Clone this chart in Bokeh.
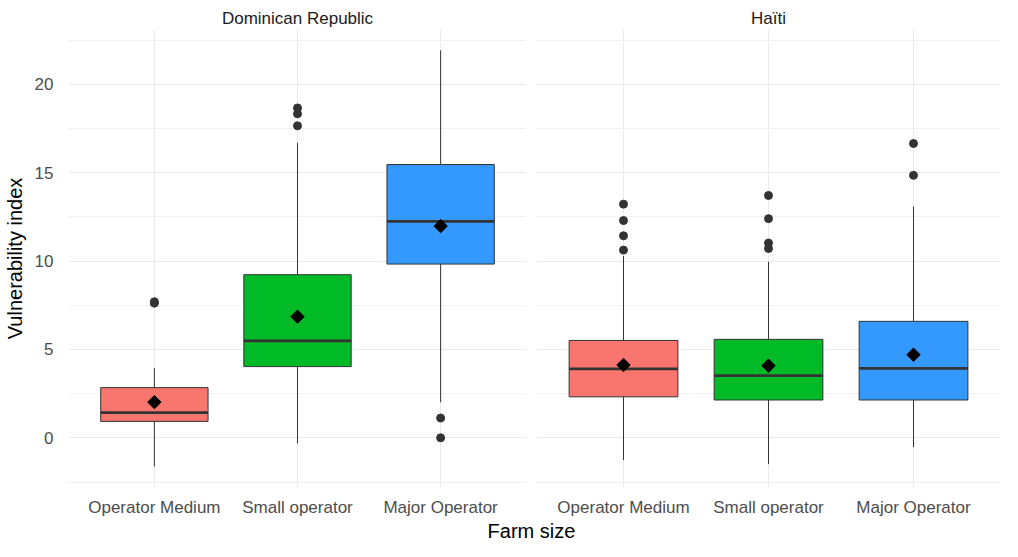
from bokeh.plotting import figure
from bokeh.layouts import column, row
from bokeh.models import ColumnDataSource, FactorRange, Range1d, FixedTicker, Label
from bokeh.embed import file_html
from bokeh.resources import INLINE
import math

# ---------------- data ----------------
categories = ["Operator Medium", "Small operator", "Major Operator"]
panels = ["Dominican Republic", "Haïti"]
fill_colors = ["#F8766D", "#00BA26", "#3399FF"]

dr_lower = [-1.63, -0.31, 2.01]
dr_q1 = [0.93, 4.03, 9.83]
dr_median = [1.43, 5.49, 12.25]
dr_q3 = [2.84, 9.23, 15.46]
dr_upper = [3.94, 16.69, 21.92]
dr_mean = [2.02, 6.85, 11.98]
dr_out_cat = ["Operator Medium", "Operator Medium", "Small operator", "Small operator",
              "Small operator", "Major Operator", "Major Operator"]
dr_out_val = [7.62, 7.70, 17.65, 18.33, 18.66, 1.12, 0.0]

ht_lower = [-1.25, -1.49, -0.52]
ht_q1 = [2.32, 2.14, 2.14]
ht_median = [3.90, 3.52, 3.93]
ht_q3 = [5.51, 5.57, 6.59]
ht_upper = [10.29, 9.96, 13.08]
ht_mean = [4.12, 4.08, 4.70]
ht_out_cat = ["Operator Medium", "Operator Medium", "Operator Medium", "Operator Medium",
              "Small operator", "Small operator", "Small operator", "Small operator",
              "Major Operator", "Major Operator"]
ht_out_val = [13.22, 12.29, 11.43, 10.62, 13.71, 12.40, 11.02, 10.71, 16.65, 14.85]

y_major = [0, 5, 10, 15, 20]
y_minor = [-2.5, 2.5, 7.5, 12.5, 17.5, 22.5]
y_label = "Vulnerability index"
x_label = "Farm size"

# ---------------- layout constants ----------------
FONT = "Liberation Sans"
FRAME_W = 464
FRAME_H = 466
LEFT1 = 62
GAP = 10
TOP = 29
BOTTOM = 24
H3 = 22
BOX_W = 0.75

y_range = Range1d(-2.81, 23.1)


def make_panel(title, lower, q1, med, q3, upper, mean, out_cat, out_val, first):
    left = LEFT1 if first else GAP
    p = figure(
        x_range=FactorRange(*categories, range_padding=0.1, range_padding_units="absolute"),
        y_range=y_range,
        width=left + FRAME_W, height=TOP + FRAME_H + BOTTOM,
        min_border_left=left, min_border_right=0,
        min_border_top=TOP, min_border_bottom=BOTTOM,
        toolbar_location=None, output_backend="svg",
        title=title,
    )
    p.outline_line_color = None
    p.background_fill_color = "white"
    p.border_fill_color = "white"

    p.title.align = "center"
    p.title.text_font = FONT
    p.title.text_font_size = "17px"
    p.title.text_font_style = "normal"
    p.title.text_color = "#1A1A1A"
    p.title.standoff = 4

    ticker = FixedTicker(ticks=y_major, minor_ticks=y_minor)
    p.yaxis.ticker = ticker
    p.ygrid.ticker = ticker
    p.ygrid.grid_line_color = "#EBEBEB"
    p.ygrid.grid_line_width = 1
    p.ygrid.minor_grid_line_color = "#F1F1F1"
    p.ygrid.minor_grid_line_width = 1
    p.xgrid.grid_line_color = "#EBEBEB"
    p.xgrid.grid_line_width = 1

    for ax in (p.xaxis, p.yaxis):
        ax.axis_line_color = None
        ax.major_tick_line_color = None
        ax.minor_tick_line_color = None
        ax.major_label_text_font = FONT
        ax.major_label_text_font_size = "17px"
        ax.major_label_text_color = "#4D4D4D"
    p.xaxis.major_label_standoff = 4
    p.yaxis.major_label_standoff = 9

    if first:
        p.yaxis.axis_label = y_label
        p.yaxis.axis_label_text_font = FONT
        p.yaxis.axis_label_text_font_size = "20px"
        p.yaxis.axis_label_text_font_style = "normal"
        p.yaxis.axis_label_text_color = "black"
        p.yaxis.axis_label_standoff = 6
    else:
        p.yaxis.visible = False

    src = ColumnDataSource(dict(cat=categories, lower=lower, q1=q1, med=med, q3=q3,
                                upper=upper, mean=mean, color=fill_colors))
    # whiskers
    p.segment(x0="cat", y0="q3", x1="cat", y1="upper", source=src,
              line_color="#333333", line_width=1)
    p.segment(x0="cat", y0="q1", x1="cat", y1="lower", source=src,
              line_color="#333333", line_width=1)
    # boxes
    p.vbar(x="cat", width=BOX_W, bottom="q1", top="q3", source=src,
           fill_color="color", line_color="#333333", line_width=1)
    # median
    p.rect(x="cat", y="med", width=BOX_W, height=2.8, height_units="screen",
           source=src, fill_color="#333333", line_color=None)
    # outliers
    p.scatter(x=out_cat, y=out_val, marker="circle", size=8,
              fill_color="#333333", line_color="#333333")
    # means
    p.scatter(x="cat", y="mean", source=src, marker="square", size=9.5,
              angle=math.pi / 4, fill_color="black", line_color="black")
    return p


p1 = make_panel(panels[0], dr_lower, dr_q1, dr_median, dr_q3, dr_upper, dr_mean,
                dr_out_cat, dr_out_val, True)
p2 = make_panel(panels[1], ht_lower, ht_q1, ht_median, ht_q3, ht_upper, ht_mean,
                ht_out_cat, ht_out_val, False)

total_w = LEFT1 + FRAME_W + GAP + FRAME_W
p3 = figure(width=total_w, height=H3, x_range=Range1d(0, total_w), y_range=Range1d(0, H3),
            min_border=0, toolbar_location=None, output_backend="svg")
p3.outline_line_color = None
p3.xaxis.visible = False
p3.yaxis.visible = False
p3.grid.visible = False
center_x = (LEFT1 + total_w) / 2
p3.add_layout(Label(x=center_x, y=H3 / 2, text=x_label, text_align="center",
                    text_baseline="middle", text_font=FONT,
                    text_font_size="20px", text_color="black"))

layout = column(row(p1, p2, spacing=0), p3, spacing=0)

with open("out.html", "w") as f:
    f.write(file_html(layout, INLINE))
